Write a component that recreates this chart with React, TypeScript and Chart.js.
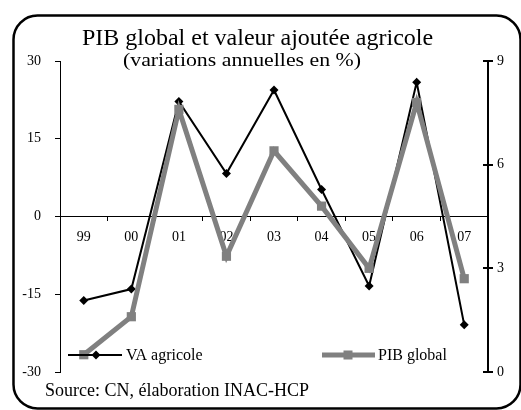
import React, { useEffect, useRef } from 'react';
import { Chart, registerables } from 'chart.js';
Chart.register(...registerables);

const categories = ['99', '00', '01', '02', '03', '04', '05', '06', '07'];
const vaAgricole = [-16.2, -14.0, 22.2, 8.3, 24.4, 5.2, -13.4, 25.9, -20.9];
const pibGlobal = [0.5, 1.6, 7.6, 3.35, 6.4, 4.8, 3.0, 7.8, 2.7];
const leftRange = { min: -30, max: 30, step: 15 };
const rightRange = { min: 0, max: 9, step: 3 };
const titleText = 'PIB global et valeur ajoutée agricole';
const subtitleText = '(variations annuelles en %)';
const sourceText = 'Source: CN, élaboration INAC-HCP';
const legendLabels = ['VA agricole', 'PIB global'];

const SERIF = "'Liberation Serif', 'Times New Roman', serif";
const GRAY = '#808080';

const decorPlugin = {
  id: 'decor',
  beforeDraw(chart: any) {
    const ctx = chart.ctx;
    ctx.save();
    ctx.fillStyle = '#ffffff';
    ctx.fillRect(0, 0, chart.width, chart.height);
    ctx.strokeStyle = '#000';
    ctx.lineWidth = 2.5;
    ctx.beginPath();
    ctx.roundRect(13.5, 15.5, 507, 393, 24);
    ctx.stroke();
    ctx.restore();
  },
  afterDraw(chart: any) {
    const ctx = chart.ctx;
    ctx.save();
    ctx.fillStyle = '#000';
    // title
    ctx.font = `24px ${SERIF}`;
    ctx.textAlign = 'center';
    ctx.textBaseline = 'alphabetic';
    ctx.fillText(titleText, 257.5, 44.5);
    // subtitle, slightly widened as in the reference
    ctx.font = `19px ${SERIF}`;
    const w = ctx.measureText(subtitleText).width;
    const sx = 238 / w;
    ctx.save();
    ctx.translate(242, 65.5);
    ctx.scale(sx, 1);
    ctx.fillText(subtitleText, 0, 0);
    ctx.restore();
    // source
    ctx.font = `18px ${SERIF}`;
    ctx.textAlign = 'left';
    ctx.fillText(sourceText, 45, 396);

    // right axis inner tick halves
    const y1 = chart.scales.y1;
    ctx.strokeStyle = '#000';
    ctx.lineWidth = 2;
    y1.ticks.forEach((t: any) => {
      const py = Math.round(y1.getPixelForValue(t.value));
      ctx.beginPath();
      ctx.moveTo(y1.left - 5, py);
      ctx.lineTo(y1.left, py);
      ctx.stroke();
    });

    // legend
    const ly = 355;
    ctx.font = `16px ${SERIF}`;
    ctx.textBaseline = 'middle';
    ctx.strokeStyle = '#000';
    ctx.lineWidth = 2;
    ctx.beginPath();
    ctx.moveTo(68, ly);
    ctx.lineTo(122, ly);
    ctx.stroke();
    ctx.fillStyle = '#000';
    ctx.beginPath();
    ctx.moveTo(96, ly - 4.5);
    ctx.lineTo(100.5, ly);
    ctx.lineTo(96, ly + 4.5);
    ctx.lineTo(91.5, ly);
    ctx.closePath();
    ctx.fill();
    ctx.fillText(legendLabels[0], 126, ly + 1);

    ctx.strokeStyle = GRAY;
    ctx.lineWidth = 5;
    ctx.beginPath();
    ctx.moveTo(322, ly);
    ctx.lineTo(375, ly);
    ctx.stroke();
    ctx.fillStyle = GRAY;
    ctx.fillRect(343.5, ly - 4.5, 9, 9);
    ctx.fillStyle = '#000';
    ctx.fillText(legendLabels[1], 378, ly + 1);
    ctx.restore();
  },
};

export default function App() {
  const ref = useRef<HTMLCanvasElement>(null);
  useEffect(() => {
    if (!ref.current) return;
    const chart = new Chart(ref.current, {
      type: 'line',
      data: {
        labels: categories,
        datasets: [
          {
            label: legendLabels[1],
            data: pibGlobal,
            yAxisID: 'y1',
            borderColor: GRAY,
            backgroundColor: GRAY,
            borderWidth: 5,
            pointStyle: 'rect',
            pointRadius: 6.5,
            pointBorderWidth: 0,
            tension: 0,
            order: 0,
            clip: false as any,
          },
          {
            label: legendLabels[0],
            data: vaAgricole,
            yAxisID: 'y',
            borderColor: '#000',
            backgroundColor: '#000',
            borderWidth: 2,
            pointStyle: 'rectRot',
            pointRadius: 4.5,
            pointBorderWidth: 0,
            tension: 0,
            order: 1,
            clip: false as any,
          },
        ],
      },
      options: {
        responsive: false,
        devicePixelRatio: 1,
        animation: false,
        layout: { padding: { left: 0, right: 0, top: 61, bottom: 38 } },
        plugins: {
          legend: { display: false },
          title: { display: false },
          tooltip: { enabled: false },
        },
        scales: {
          x: {
            type: 'category',
            position: { y: 0 } as any,
            offset: true,
            grid: {
              offset: true,
              drawOnChartArea: false,
              drawTicks: true,
              tickLength: 4,
              color: '#000',
            },
            border: { display: true, color: '#000', width: 1 },
            ticks: {
              color: '#000',
              font: { family: SERIF, size: 14 },
              padding: 8,
              maxRotation: 0,
            },
          },
          y: {
            position: 'left',
            min: leftRange.min,
            max: leftRange.max,
            ticks: {
              stepSize: leftRange.step,
              color: '#000',
              font: { family: SERIF, size: 14 },
              padding: 14,
            },
            grid: {
              drawOnChartArea: false,
              drawTicks: true,
              tickLength: 5,
              color: '#000',
            },
            border: { display: true, color: '#000', width: 1 },
            afterFit: (s: any) => {
              s.width = 60;
            },
          },
          y1: {
            position: 'right',
            min: rightRange.min,
            max: rightRange.max,
            ticks: {
              stepSize: rightRange.step,
              color: '#000',
              font: { family: SERIF, size: 14 },
              padding: 4,
            },
            grid: {
              drawOnChartArea: false,
              drawTicks: true,
              tickLength: 5,
              color: '#000',
              lineWidth: 2,
            },
            border: { display: true, color: '#000', width: 2 },
            afterFit: (s: any) => {
              s.width = 33;
            },
          },
        },
      },
      plugins: [decorPlugin],
    });
    return () => chart.destroy();
  }, []);
  return (
    <div style={{ position: 'fixed', left: 0, top: 0, width: 521, height: 410, background: '#fff' }}>
      <canvas ref={ref} width={521} height={410} style={{ display: 'block' }} />
    </div>
  );
}
